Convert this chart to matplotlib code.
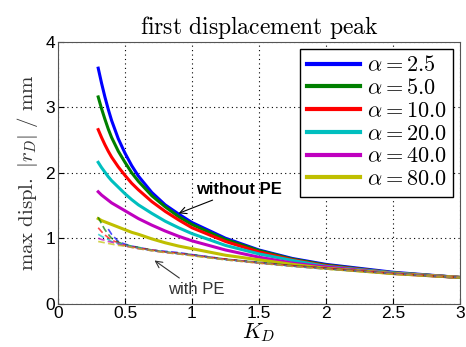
import numpy as np
import matplotlib
matplotlib.use("Agg")
import matplotlib.pyplot as plt

plt.rcParams['mathtext.fontset'] = 'cm'
plt.rcParams['font.family'] = ['Liberation Sans', 'DejaVu Sans']

# values
kd = [0.3, 0.325, 0.35, 0.375, 0.4, 0.45, 0.5, 0.55, 0.6, 0.7, 0.8, 0.9, 1.0,
      1.25, 1.5, 1.75, 2.0, 2.5, 3.0]
alphas = ['2.5', '5.0', '10.0', '20.0', '40.0', '80.0']
colors = ['#0000ff', '#008000', '#ff0000', '#00bfbf', '#bf00bf', '#bfbf00']

no_pe = [
    [3.60, 3.37, 3.16, 2.97, 2.80, 2.52, 2.30, 2.11, 1.95, 1.70, 1.51, 1.37, 1.24,
     1.00, 0.82, 0.69, 0.60, 0.48, 0.40],
    [3.16, 2.98, 2.82, 2.67, 2.54, 2.33, 2.16, 2.00, 1.87, 1.65, 1.48, 1.33, 1.21,
     0.98, 0.81, 0.68, 0.59, 0.47, 0.40],
    [2.66, 2.54, 2.43, 2.33, 2.24, 2.09, 1.96, 1.84, 1.74, 1.56, 1.41, 1.28, 1.16,
     0.95, 0.79, 0.67, 0.58, 0.47, 0.40],
    [2.16, 2.08, 2.01, 1.94, 1.88, 1.78, 1.68, 1.59, 1.51, 1.38, 1.26, 1.16, 1.07,
     0.89, 0.76, 0.66, 0.57, 0.47, 0.40],
    [1.71, 1.66, 1.62, 1.58, 1.54, 1.48, 1.42, 1.36, 1.30, 1.20, 1.11, 1.03, 0.96,
     0.82, 0.71, 0.62, 0.56, 0.46, 0.40],
    [1.30, 1.27, 1.25, 1.23, 1.21, 1.17, 1.13, 1.09, 1.06, 0.99, 0.93, 0.88, 0.84,
     0.74, 0.67, 0.60, 0.54, 0.46, 0.40],
]
with_pe = [
    [np.nan, np.nan, np.nan, 1.14, 1.06, 0.95, 0.91, 0.88, 0.86, 0.82, 0.80, 0.78, 0.75,
     0.68, 0.63, 0.58, 0.54, 0.46, 0.40],
    [1.32, 1.22, 1.13, 1.06, 1.00, 0.94, 0.90, 0.88, 0.86, 0.82, 0.79, 0.77, 0.75,
     0.68, 0.63, 0.58, 0.54, 0.46, 0.40],
    [1.16, 1.10, 1.05, 1.01, 0.97, 0.93, 0.89, 0.87, 0.85, 0.82, 0.79, 0.77, 0.74,
     0.68, 0.62, 0.58, 0.54, 0.46, 0.40],
    [1.06, 1.03, 1.00, 0.98, 0.95, 0.92, 0.89, 0.87, 0.85, 0.81, 0.79, 0.76, 0.74,
     0.67, 0.62, 0.57, 0.53, 0.46, 0.40],
    [1.00, 0.98, 0.97, 0.95, 0.94, 0.91, 0.88, 0.86, 0.84, 0.81, 0.78, 0.76, 0.74,
     0.67, 0.62, 0.57, 0.53, 0.46, 0.40],
    [0.95, 0.94, 0.93, 0.92, 0.91, 0.89, 0.88, 0.86, 0.84, 0.81, 0.78, 0.76, 0.73,
     0.67, 0.62, 0.57, 0.53, 0.45, 0.40],
]

fig = plt.figure(figsize=(4.66, 3.47), dpi=100)
ax = fig.add_axes([0.1245, 0.125, 0.8625, 0.754])

for i in range(len(alphas)):
    ax.plot(kd, no_pe[i], color=colors[i], lw=2.2, label=r'$\alpha = %s$' % alphas[i])
for i in range(len(alphas)):
    ax.plot(kd, with_pe[i], color=colors[i], lw=1.2, ls='--', alpha=0.7, dashes=(4, 2))

ax.set_xlim(0, 3)
ax.set_ylim(0, 4)
ax.set_xticks([0, 0.5, 1, 1.5, 2, 2.5, 3])
ax.set_xticklabels(['0', '0.5', '1', '1.5', '2', '2.5', '3'])
ax.set_yticks([0, 1, 2, 3, 4])
ax.tick_params(direction='in', labelsize=12.5, length=4, pad=2)
ax.grid(True, color='black', ls=(0, (1, 3)), lw=0.8)
for s in ax.spines.values():
    s.set_color('#555555')

ax.set_title(r'$\mathrm{first\ displacement\ peak}$', fontsize=17, pad=6)
ax.set_ylabel(r'$\mathrm{max\ displ.}\ |r_D|\ /\ \mathrm{mm}$', fontsize=15,
              color='#333333', labelpad=4)
ax.set_xlabel(r'$K_D$', fontsize=16, labelpad=0)

leg = ax.legend(loc='upper right', fontsize=16, handlelength=2.4, handletextpad=0.3,
                labelspacing=0.08, borderpad=0.3, fancybox=False, framealpha=1,
                edgecolor='black', borderaxespad=0.3)
for ln in leg.get_lines():
    ln.set_linewidth(3)

ax.annotate('without PE', xy=(0.90, 1.38), xytext=(1.03, 1.74), fontsize=12,
            fontweight='bold', va='center',
            arrowprops=dict(arrowstyle='->', color='black', lw=0.8, shrinkA=0, shrinkB=0))
ax.annotate('with PE', xy=(0.72, 0.66), xytext=(0.82, 0.21), fontsize=12,
            va='center', color='#333333',
            arrowprops=dict(arrowstyle='->', color='#333333', lw=0.8, shrinkA=2, shrinkB=0))

fig.savefig('out.png', dpi=100)
